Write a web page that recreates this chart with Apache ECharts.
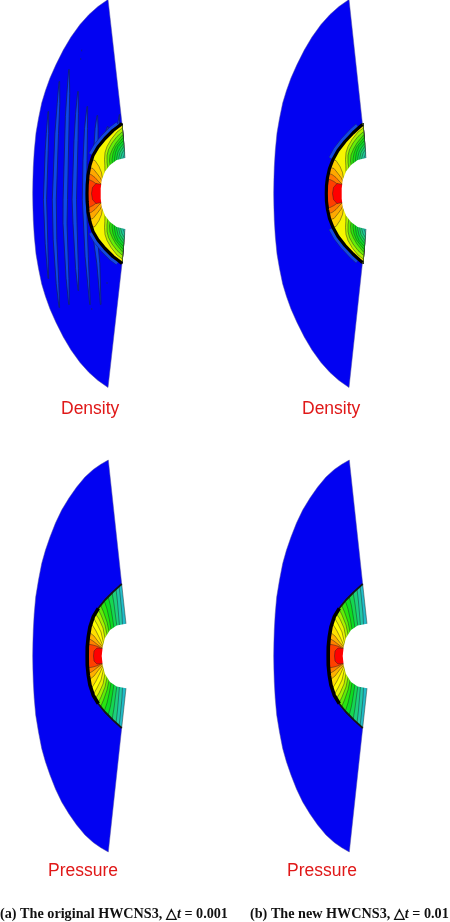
<!DOCTYPE html>
<html>
<head>
<meta charset="utf-8">
<style>
  html, body { margin: 0; padding: 0; background: #fff; }
  #chart { width: 450px; height: 922px; }
</style>
<script src="https://cdn.jsdelivr.net/npm/echarts@6/dist/echarts.min.js"></script>
</head>
<body>
<div id="chart"></div>
<script>
// all shapes are upper halves, [x, y] with y measured from the stagnation line
const densityOuter = [[108,-194],[98,-187],[89,-179],[80,-169],[71,-156.5],[63.3,-143.5],[56,-129],[50,-115.5],[45.5,-103],[41.7,-90.5],[38.5,-75],[36,-60.5],[34.3,-43],[33.3,-26.5],[32.9,-13],[32.7,0]];
const pressureOuter = [[108.3,-196],[100.5,-191.5],[93.3,-186.5],[85,-179],[76.7,-169],[69,-158],[61.7,-146],[55.5,-133],[50,-119],[45.5,-106],[41.7,-92.5],[38.5,-76],[35.7,-59],[34.2,-42],[33.3,-26],[32.9,-13],[32.7,0]];

const densityShock = [[122,-70],[119,-67.5],[113,-63],[105,-55],[98,-46.5],[93,-38],[90,-28.5],[88,-18.5],[87.2,-8.5],[87,0]];
const densityShockB = [[121.5,-69],[118,-66],[112,-60.5],[104,-52],[97,-43],[92,-34],[88.5,-25],[86.5,-16],[85.5,-8],[85.3,0]];
const pressureShock = [[121.7,-72],[113.3,-64.3],[105,-56],[98.3,-47.7],[93.3,-39.3],[90,-29.3],[88.3,-19.3],[87.3,-9.3],[87.2,0]];

const densityBody = [[125,-35.5],[116.7,-33.5],[110,-28.5],[105,-22],[101.7,-13.5],[100.7,-5],[100.7,0]];
const pressureBody = [[126,-32.3],[116.7,-30.5],[110,-26],[105,-18],[102.7,-9.3],[101.7,0]];

// contour lines, lowest level first, from inside the hole out to the shock
const densityContours = [
  [[125,-30],[125,-35.5],[122,-70]],
  [[122.5,-33],[123.2,-36],[124,-38],[124.7,-40.5],[122,-70]],
  [[120.5,-33],[121,-36.5],[122,-40],[124.3,-44],[122,-70]],
  [[118.5,-32],[119,-36.5],[120,-41],[124,-47.5],[122,-70]],
  [[116.5,-31],[116.8,-36],[118,-41.5],[120.5,-46],[123.7,-50],[122,-70]],
  [[114.5,-29.5],[114.5,-35],[115.5,-41],[118,-47],[123.4,-53],[122,-70]],
  [[112.5,-28],[112,-34],[113,-40],[115.5,-46.5],[123.1,-56],[122,-70]],
  [[110.5,-26.5],[109.5,-32.5],[110,-38.5],[112.5,-44.5],[116,-50.5],[122.9,-59],[122,-70]],
  [[108,-24.5],[107,-31],[107,-38],[108.5,-44],[112,-50.5],[117,-57],[122.6,-62],[122,-70]],
  [[105,-21],[104.8,-28],[104.5,-34],[105,-41],[107,-47],[111,-54],[117,-61.5],[122.3,-65.5],[122,-70]],
  [[102.5,-15],[101.5,-21],[99,-27],[95,-33],[91,-34]],
  [[102.5,-11],[100,-16],[97,-20],[93,-25],[89,-26]],
  [[102.5,-8],[98.5,-12],[95,-16],[91,-19],[88,-20]],
  [[102.5,-6],[97,-9],[93,-12],[89,-14],[87.5,-14]],
  [[102.5,-9],[96,-10],[92.5,-6],[91.5,0]]
];
const pressureContours = [
  [[126,-28],[126,-32.3],[121.7,-72]],
  [[122.5,-31],[122,-42],[121,-52],[120,-62],[119,-70]],
  [[119.5,-30],[118.5,-42],[117.5,-54],[116,-67]],
  [[117,-29],[115.5,-40],[114,-52],[112,-64]],
  [[114,-28],[112.5,-38],[110.5,-50],[108,-60]],
  [[111.5,-24],[109.5,-36],[107,-47],[104,-56]],
  [[109.5,-22],[107,-34],[103.5,-44],[100.5,-51]],
  [[107.5,-19],[105,-31],[101,-41],[98,-47]],
  [[105.5,-15],[103,-28],[99,-37],[95,-43]],
  [[104,-11],[101,-24],[97,-32],[93,-39]],
  [[103.5,-9],[99.5,-18],[95.5,-26],[91,-33]],
  [[103.5,-8],[98.5,-14],[94,-20],[89,-24]],
  [[103.5,-7],[98,-11],[93,-15],[88,-18]],
  [[103.5,-6],[98,-9.5],[93,-11],[87.5,-12]],
  [[103.5,-7.5],[97,-8],[94,-5],[93.5,0]]
];

const densityColors = ['#22c4c0','#20cc9c','#1cd47c','#14d850','#0cdc28','#12e014','#30e40c','#66ec08','#acf200','#f6f600','#ffd000','#ffa800','#ff7800','#ff4000','#ff0000'];
const pressureColors = ['#22bcc8','#20c8a8','#1cd07c','#14d850','#0cdc20','#28e410','#60ec08','#a8f200','#e8f400','#ffff00','#ffe000','#ffb000','#ff8000','#ff4000','#ff0000'];

// entropy waves in panel (a): [x, y, half width]
const waves = [
  [[48.3,-82,0.3],[47.5,-60,1.2],[46.7,-43,1.5],[45,6,1.6],[46.5,50,1.3],[48.3,85,0.3]],
  [[59.3,-112,0.3],[58.5,-90,1.3],[56.7,-60,1.8],[54.3,6,2],[55,46,1.8],[57.5,90,1.3],[59.3,114,0.3]],
  [[69,-124,0.3],[68.3,-100,1.4],[67.3,-77,1.9],[65.3,6,2.2],[65,30,2],[67.5,85,1.4],[69,111,0.3]],
  [[78,-102,0.3],[77,-80,1.4],[76,-53,2],[74.3,6,2.2],[75,30,2],[77,75,1.4],[78.3,97,0.3]],
  [[87.3,-87,0.3],[86,-65,1.5],[85,-33,2],[84.3,6,2],[86.7,63,1.6],[90,111,0.3]],
  [[97.3,-78,0.3],[96.6,-65,1.5],[96,-48,2],[96,50,2],[98.3,70,1.5],[100.7,111,0.3]],
  [[107.7,-67,0.3],[106.5,-60,1.5],[105,-50,2],[105,45,2],[106.5,55,1.5],[107.7,62,0.3]],
  [[119.5,-79,0.2],[118.8,-72,0.7],[118,-64,1]]
];
const waveDots = [[81.7,-143],[80.7,-134.5],[107,89.5],[91.7,115.5]];

const panels = [
  { left: 0, center: 193.5, field: 'density', shock: densityShock, waves: true },
  { left: 241, center: 193.5, field: 'density', shock: densityShockB, waves: false },
  { left: 0, center: 656, field: 'pressure', shock: pressureShock, waves: false },
  { left: 241, center: 656, field: 'pressure', shock: pressureShock, waves: false }
];

const flip = (pts) => pts.map(([x, y]) => [x, -y]);
const mirror = (pts) => pts.concat(flip(pts.slice().reverse()));

const buildShapes = (panel) => {
  const isDensity = panel.field === 'density';
  const outer = isDensity ? densityOuter : pressureOuter;
  const body = isDensity ? densityBody : pressureBody;
  const contours = isDensity ? densityContours : pressureContours;
  const colors = isDensity ? densityColors : pressureColors;
  const shock = panel.shock;
  const shapes = [];

  // free stream: outer curve, back along the stern edge, round the shock
  const lower = flip(outer.slice().reverse());
  const backEdge = mirror(shock).reverse();
  shapes.push({
    type: 'polygon',
    pts: outer.concat(lower.slice(1), backEdge),
    fill: '#0202f2', stroke: '#50509a', lw: 0.5
  });

  if (panel.waves) {
    waves.forEach((w) => {
      const left = w.map(([x, y, h]) => [x - h, y]);
      const right = w.slice().reverse().map(([x, y, h]) => [x + h, y]);
      shapes.push({ type: 'polygon', pts: left.concat(right), fill: '#0d48ea', stroke: '#101c70', lw: 0.8 });
    });
    waveDots.forEach(([x, y]) => {
      shapes.push({ type: 'polyline', pts: [[x, y - 0.8], [x, y + 0.8]], stroke: '#14207c', lw: 1 });
    });
  }

  // lighter rim ahead of the shock, only on the shoulders
  if (isDensity) {
    const rim = shock.slice(1, 6);
    [rim, flip(rim)].forEach((part) => {
      shapes.push({ type: 'polyline', pts: part, stroke: '#14207c', lw: 9.6 });
      shapes.push({ type: 'polyline', pts: part, stroke: '#1248e0', lw: 8.8 });
    });
  }

  // nested level regions, each painted over the one below it
  contours.forEach((line, i) => {
    const lastY = Math.abs(line[line.length - 1][1]);
    const track = shock.filter(([, y]) => Math.abs(y) < lastY);
    shapes.push({
      type: 'polygon',
      pts: mirror(line.concat(track)),
      fill: colors[i], stroke: '#222', lw: 0.45
    });
  });

  if (isDensity) {
    shapes.push({ type: 'polyline', pts: mirror(shock), stroke: '#000', lw: 3.2 });
  } else {
    shapes.push({ type: 'polyline', pts: mirror(shock), stroke: '#141414', lw: 1.8 });
    shapes.push({ type: 'polyline', pts: mirror(shock.slice(3)), stroke: '#000', lw: 3.6 });
  }

  // the cylinder is left blank
  const hole = [[body[0][0] + 12, body[0][1]]].concat(body);
  shapes.push({ type: 'polygon', pts: mirror(hole), fill: '#fff' });
  return shapes;
};

const chart = echarts.init(document.getElementById('chart'));

const makeSeries = (panel, i) => {
  const shapes = buildShapes(panel);
  return {
    type: 'custom',
    coordinateSystem: 'cartesian2d',
    xAxisIndex: i,
    yAxisIndex: i,
    clip: false,
    silent: true,
    data: shapes.map((s, k) => [k]),
    renderItem: (params, api) => {
      const s = shapes[params.dataIndex];
      const points = s.pts.map((p) => api.coord(p));
      if (s.type === 'polyline') {
        return {
          type: 'polyline',
          z2: params.dataIndex,
          shape: { points },
          style: { fill: null, stroke: s.stroke, lineWidth: s.lw, lineJoin: 'round' }
        };
      }
      return {
        type: 'polygon',
        z2: params.dataIndex,
        shape: { points },
        style: { fill: s.fill, stroke: s.stroke || null, lineWidth: s.lw || 0, lineJoin: 'round' }
      };
    }
  };
};

const redLabel = { color: '#e01818', fontFamily: 'Liberation Sans', fontSize: 17.5, fontWeight: 'normal' };
const capLabel = {
  color: '#111', fontFamily: 'Liberation Serif', fontSize: 14.2, fontWeight: 'bold',
  rich: { i: { color: '#111', fontFamily: 'Liberation Serif', fontSize: 14.2, fontStyle: 'italic', fontWeight: 'bold' } }
};

// the top panels touch the page edge, so their axis starts at the edge
const gridTop = (p) => Math.max(0, p.center - 200);

chart.setOption({
  animation: false,
  backgroundColor: '#fff',
  title: [
    { text: 'Density', left: 61, top: 400, padding: 0, textStyle: redLabel },
    { text: 'Density', left: 302, top: 400, padding: 0, textStyle: redLabel },
    { text: 'Pressure', left: 48, top: 862, padding: 0, textStyle: redLabel },
    { text: 'Pressure', left: 287, top: 862, padding: 0, textStyle: redLabel },
    { text: '(a) The original HWCNS3, \u25b3{i|t} = 0.001', left: 0, top: 907, padding: 0, textStyle: capLabel },
    { text: '(b) The new HWCNS3, \u25b3{i|t} = 0.01', left: 250, top: 907, padding: 0, textStyle: capLabel }
  ],
  grid: panels.map((p) => ({ left: p.left, top: gridTop(p), width: 150, height: 400 })),
  xAxis: panels.map((p, i) => ({ type: 'value', gridIndex: i, min: 0, max: 150, show: false })),
  yAxis: panels.map((p, i) => ({
    type: 'value', gridIndex: i, inverse: true, show: false,
    min: gridTop(p) - p.center, max: gridTop(p) - p.center + 400
  })),
  series: panels.map(makeSeries)
});
</script>
</body>
</html>
